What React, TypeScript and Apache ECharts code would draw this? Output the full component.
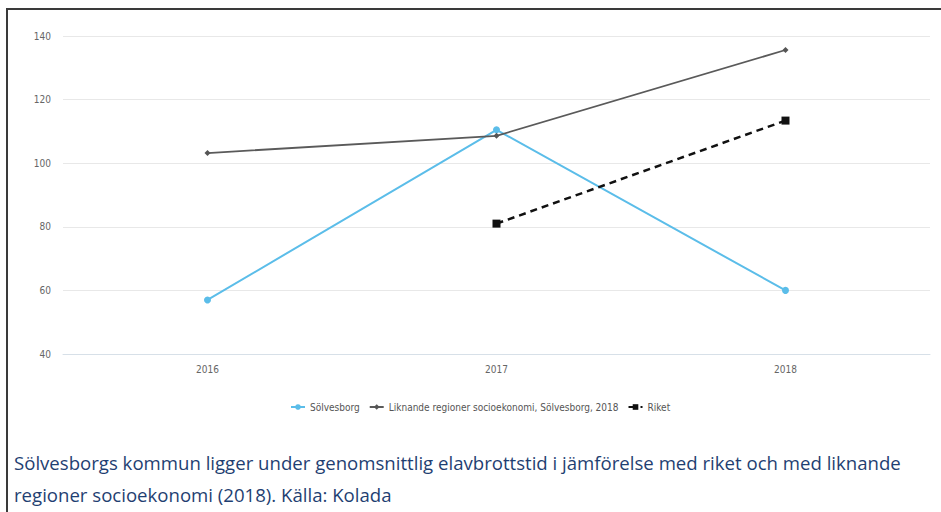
import React, { useEffect, useRef } from "react";
import * as echarts from "echarts";

const categories = ["2016", "2017", "2018"];
const solvesborg = [57, 110.5, 60];
const liknande = [103.2, 108.6, 135.6];
const riket = [null, 81, 113.4];
const seriesNames = [
  "Sölvesborg",
  "Liknande regioner socioekonomi, Sölvesborg, 2018",
  "Riket",
];
const captionLines = [
  "Sölvesborgs kommun ligger under genomsnittlig elavbrottstid i jämförelse med riket och med liknande",
  "regioner socioekonomi (2018). Källa: Kolada",
];

export default function App() {
  const ref = useRef<HTMLDivElement>(null);
  useEffect(() => {
    const chart = echarts.init(ref.current!, null, { renderer: "svg" });
    chart.setOption({
      animation: false,
      backgroundColor: "#ffffff",
      grid: { left: 63, right: 11, top: 36, bottom: 158 },
      xAxis: {
        type: "category",
        data: categories,
        boundaryGap: true,
        axisLine: { show: true, lineStyle: { color: "#d7e0e8", width: 1 } },
        axisTick: { show: false },
        axisLabel: {
          color: "#666",
          fontSize: 10,
          fontFamily: "DejaVu Sans Condensed, Liberation Sans Narrow, sans-serif",
          margin: 10,
        },
      },
      yAxis: {
        type: "value",
        min: 40,
        max: 140,
        interval: 20,
        axisLine: { show: false },
        axisTick: { show: false },
        splitLine: { lineStyle: { color: "#e8e8e8", width: 1 } },
        axisLabel: {
          color: "#666",
          fontSize: 10,
          fontFamily: "DejaVu Sans Condensed, Liberation Sans Narrow, sans-serif",
          margin: 12,
        },
      },
      legend: {
        left: 285,
        top: 397,
        itemWidth: 14,
        itemHeight: 7,
        itemGap: 9,
        textStyle: {
          color: "#555",
          fontSize: 10,
          fontFamily: "DejaVu Sans Condensed, Liberation Sans Narrow, sans-serif",
        },
        data: seriesNames,
      },
      series: [
        {
          name: seriesNames[0],
          type: "line",
          data: solvesborg,
          symbol: "circle",
          symbolSize: 7,
          itemStyle: { color: "#5bbde9" },
          lineStyle: { color: "#5bbde9", width: 2 },
          z: 3,
        },
        {
          name: seriesNames[1],
          type: "line",
          data: liknande,
          symbol: "diamond",
          symbolSize: 6,
          itemStyle: { color: "#555" },
          lineStyle: { color: "#5a5a5a", width: 1.8 },
          z: 4,
        },
        {
          name: seriesNames[2],
          type: "line",
          data: riket,
          symbol: "rect",
          symbolSize: 8,
          itemStyle: { color: "#111" },
          lineStyle: { color: "#111", width: 2.5, type: [7, 5] },
          z: 5,
        },
      ],
      graphic: [
        {
          type: "line",
          shape: { x1: 7, y1: 8, x2: 7, y2: 512 },
          style: { stroke: "#3a3a3a", lineWidth: 2 },
        },
        {
          type: "line",
          shape: { x1: 6, y1: 9, x2: 941, y2: 9 },
          style: { stroke: "#3a3a3a", lineWidth: 2 },
        },
        {
          type: "text",
          left: 14,
          top: 453,
          style: {
            text: captionLines[0],
            fill: "#1f3f72",
            fontSize: 18.6,
            fontFamily: "Open Sans, sans-serif",
          },
        },
        {
          type: "text",
          left: 14,
          top: 485,
          style: {
            text: captionLines[1],
            fill: "#1f3f72",
            fontSize: 18.6,
            fontFamily: "Open Sans, sans-serif",
          },
        },
      ],
    });
    return () => chart.dispose();
  }, []);
  return (
    <div
      ref={ref}
      style={{ position: "fixed", left: 0, top: 0, width: 941, height: 512 }}
    />
  );
}
